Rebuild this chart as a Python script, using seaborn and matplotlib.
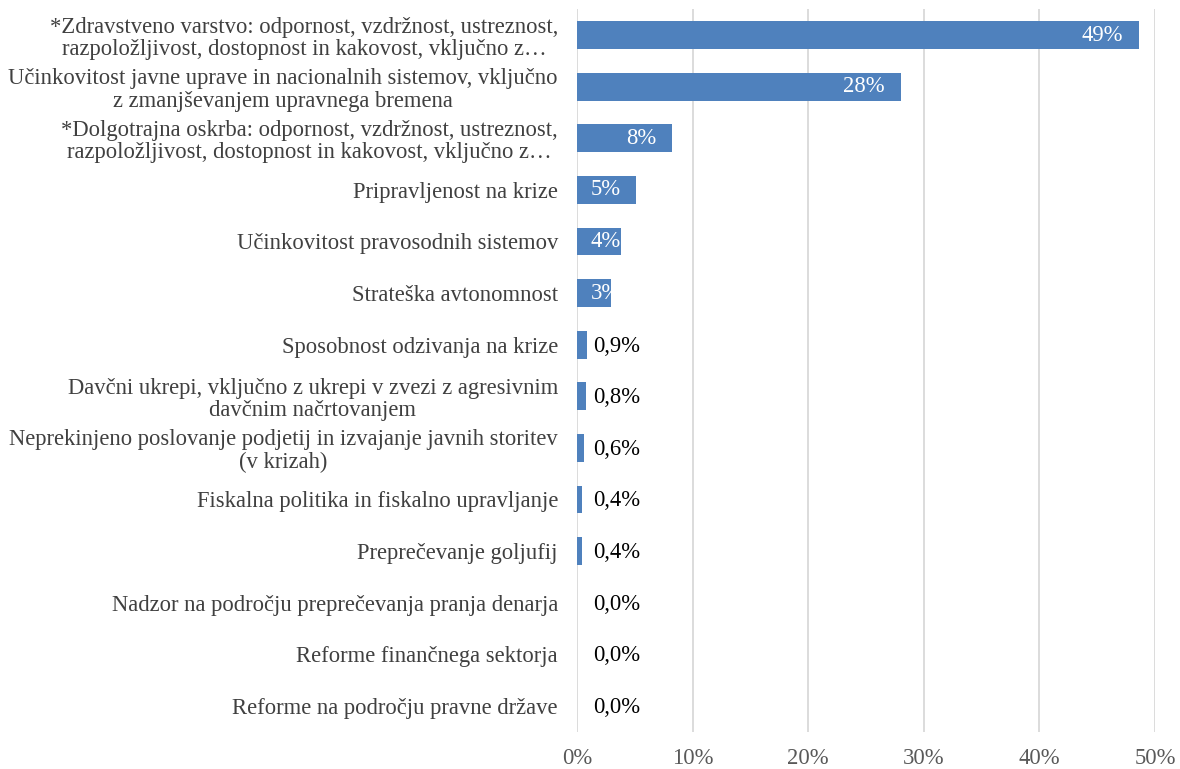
import numpy as np
import pandas as pd
import seaborn as sns
import matplotlib.pyplot as plt
from matplotlib.ticker import FuncFormatter

categories = [
    "*Zdravstveno varstvo: odpornost, vzdržnost, ustreznost,\nrazpoložljivost, dostopnost in kakovost, vključno z…",
    "Učinkovitost javne uprave in nacionalnih sistemov, vključno\nz zmanjševanjem upravnega bremena",
    "*Dolgotrajna oskrba: odpornost, vzdržnost, ustreznost,\nrazpoložljivost, dostopnost in kakovost, vključno z…",
    "Pripravljenost na krize",
    "Učinkovitost pravosodnih sistemov",
    "Strateška avtonomnost",
    "Sposobnost odzivanja na krize",
    "Davčni ukrepi, vključno z ukrepi v zvezi z agresivnim\ndavčnim načrtovanjem",
    "Neprekinjeno poslovanje podjetij in izvajanje javnih storitev\n(v krizah)",
    "Fiskalna politika in fiskalno upravljanje",
    "Preprečevanje goljufij",
    "Nadzor na področju preprečevanja pranja denarja",
    "Reforme finančnega sektorja",
    "Reforme na področju pravne države",
]
values = [48.6, 28.0, 8.2, 5.1, 3.8, 2.9, 0.9, 0.8, 0.6, 0.4, 0.4, 0.0, 0.0, 0.0]
xticks = [0, 10, 20, 30, 40, 50]

bar_color = "#4F81BD"
fs = 16.3

sns.set_style("white")
plt.rcParams["font.family"] = ["Liberation Serif", "DejaVu Serif"]

df = pd.DataFrame({"cat": categories, "val": values})

fig = plt.figure(figsize=(11.8, 7.69), dpi=100)
ax = fig.add_axes([577 / 1180, 37.3 / 769, 578 / 1180, 722.4 / 769])

sns.barplot(data=df, x="val", y="cat", orient="h", color=bar_color,
            saturation=1, width=0.54, linewidth=0, ax=ax, zorder=3)

ax.set_xlim(0, 50)
ax.set_ylim(len(categories) - 0.5, -0.5)
ax.set_xticks(xticks)
ax.xaxis.set_major_formatter(FuncFormatter(lambda v, p: f"{v:.0f}%"))
ax.xaxis.grid(True, color="#D9D9D9", linewidth=1.3, zorder=0)
ax.set_axisbelow(True)
for s in ax.spines.values():
    s.set_visible(False)
ax.tick_params(axis="both", length=0)
ax.tick_params(axis="x", labelsize=fs, labelcolor="#595959", pad=11.5)
ax.tick_params(axis="y", labelsize=fs, labelcolor="#404040", pad=13.7)
for lab in ax.get_yticklabels():
    lab.set_multialignment("center")
    lab.set_linespacing(1.1)
ax.set_xlabel("")
ax.set_ylabel("")

for i, v in enumerate(values):
    if v >= 1:
        txt = f"{round(v):d}%"
        if v > 4.5:
            ax.annotate(txt, (v, i), xytext=(-11.2, 0), textcoords="offset points",
                        ha="right", va="center", color="white", fontsize=fs, zorder=4)
        else:
            ax.annotate(txt, (0, i), xytext=(10, 0), textcoords="offset points",
                        ha="left", va="center", color="white", fontsize=fs, zorder=4)
    else:
        txt = f"{v:.1f}%".replace(".", ",")
        ax.annotate(txt, (0, i), xytext=(11.5, -1), textcoords="offset points",
                    ha="left", va="center", color="black", fontsize=fs, zorder=4)

fig.savefig("out.png", dpi=100)
